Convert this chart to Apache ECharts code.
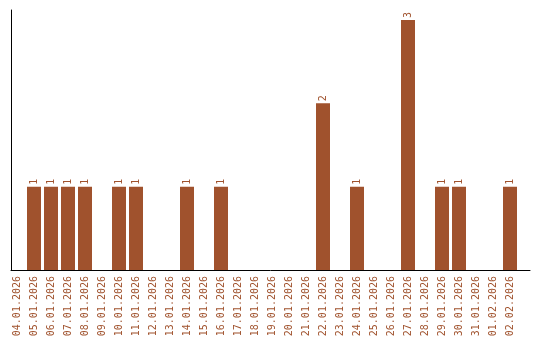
<!DOCTYPE html>
<html><head><meta charset="utf-8">
<script src="https://cdn.jsdelivr.net/npm/echarts@6/dist/echarts.min.js"></script>
<style>html,body{margin:0;padding:0;background:#fff}#c{width:540px;height:340px}</style>
</head><body><div id="c"></div>
<script>
var categories = ["04.01.2026","05.01.2026","06.01.2026","07.01.2026","08.01.2026","09.01.2026","10.01.2026","11.01.2026","12.01.2026","13.01.2026","14.01.2026","15.01.2026","16.01.2026","17.01.2026","18.01.2026","19.01.2026","20.01.2026","21.01.2026","22.01.2026","23.01.2026","24.01.2026","25.01.2026","26.01.2026","27.01.2026","28.01.2026","29.01.2026","30.01.2026","31.01.2026","01.02.2026","02.02.2026"];
var counts = [0,1,1,1,1,0,1,1,0,0,1,0,1,0,0,0,0,0,2,0,1,0,0,3,0,1,1,0,0,1];
var color = '#a0522d';
var font = 'DejaVu Sans Mono';
var chart = echarts.init(document.getElementById('c'), null, {renderer:'canvas'});
chart.setOption({
  animation:false,
  grid:[
    {left:8.5, width:510, top:10, bottom:70},
    {left:11, right:10, top:10, bottom:70}
  ],
  xAxis:[
    {type:'category', gridIndex:0, data:categories,
     axisLine:{show:false}, axisTick:{show:false},
     axisLabel:{interval:0, rotate:90, color:color, fontFamily:font, fontSize:10, margin:6}},
    {type:'value', gridIndex:1, min:0, max:1, axisLine:{show:true, lineStyle:{color:'#000', width:1}},
     axisTick:{show:false}, axisLabel:{show:false}, splitLine:{show:false}}
  ],
  yAxis:[
    {type:'value', gridIndex:0, min:0, max:3.12, show:false, splitLine:{show:false}},
    {type:'value', gridIndex:1, min:0, max:1, axisLine:{show:true, lineStyle:{color:'#000', width:1}},
     axisTick:{show:false}, axisLabel:{show:false}, splitLine:{show:false}}
  ],
  series:[{
    type:'bar', xAxisIndex:0, yAxisIndex:0, data:counts.map(function(v){return v===0?null:v;}),
    barWidth:14, itemStyle:{color:color},
    label:{show:true, position:'top', rotate:90, align:'left', verticalAlign:'middle', distance:2,
           color:color, fontFamily:font, fontSize:10}
  }]
});
</script></body></html>
